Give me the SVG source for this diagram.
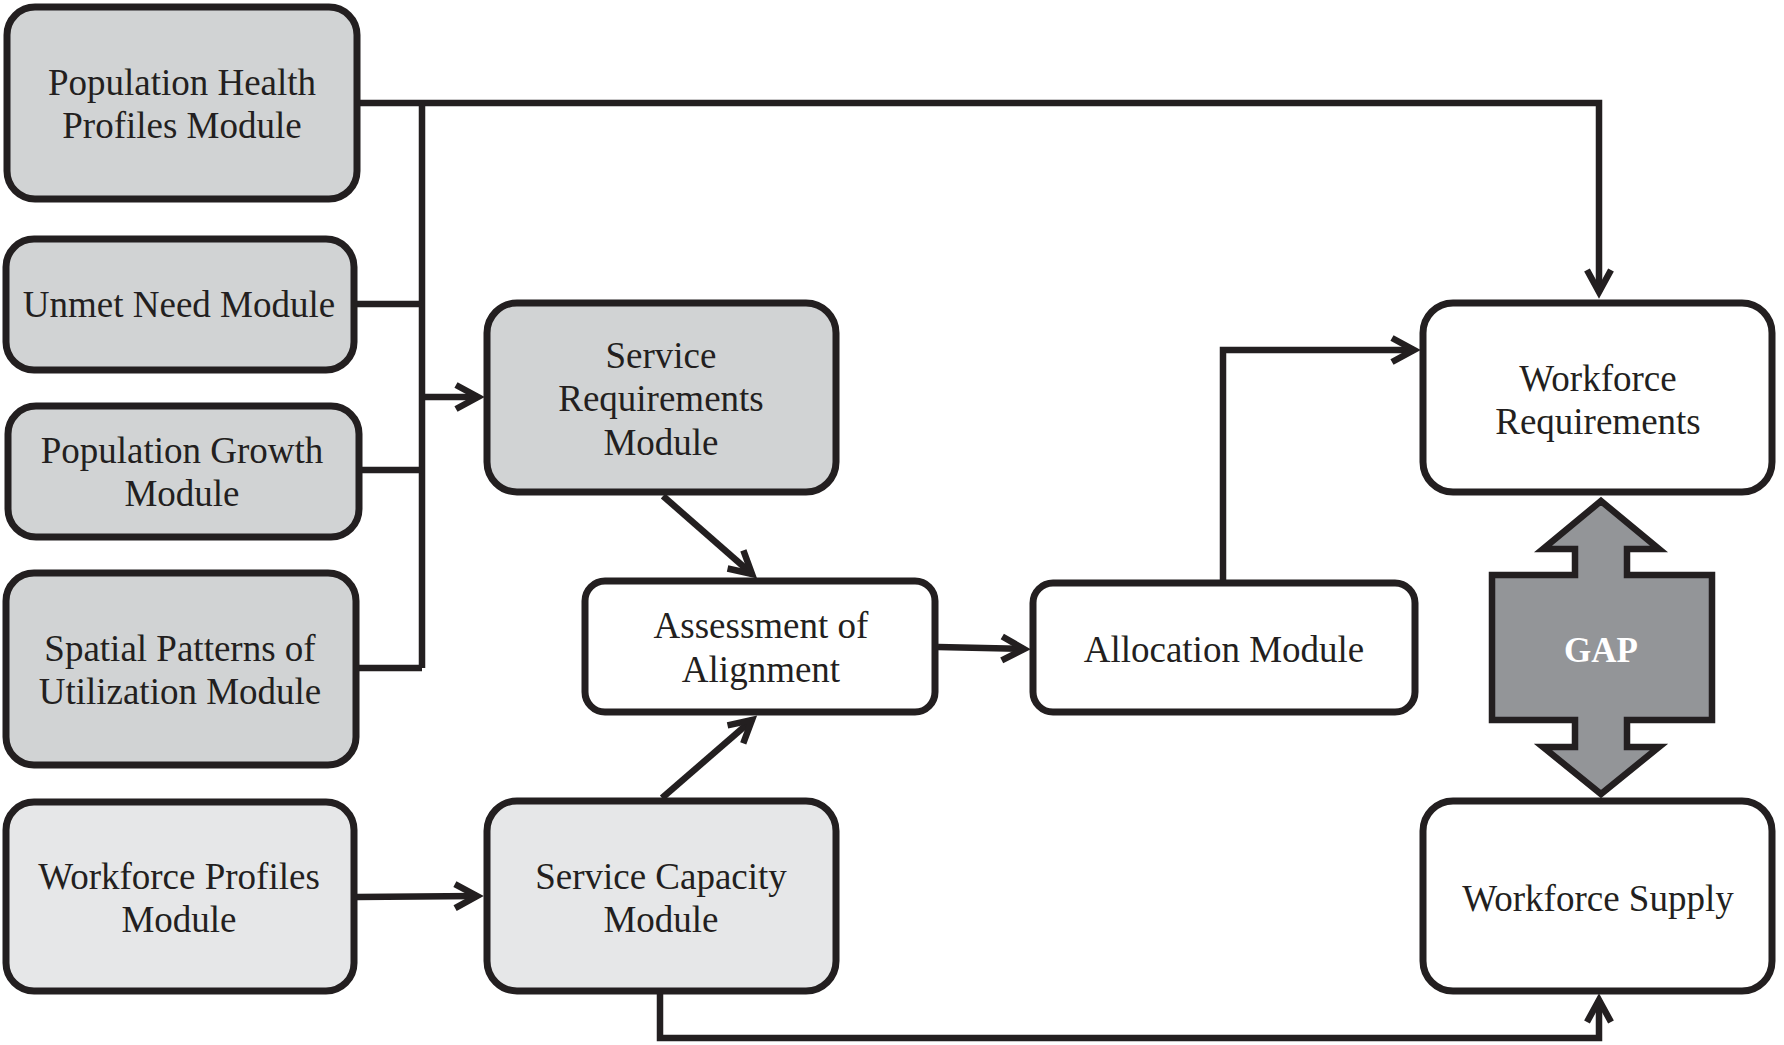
<svg xmlns="http://www.w3.org/2000/svg" width="1784" height="1045" viewBox="0 0 1784 1045">
<style>
.box{stroke:#231f20;stroke-width:7;}
.dk{fill:#d1d3d4;}
.lt{fill:#e6e7e8;}
.wh{fill:#ffffff;}
.t{font-family:"Liberation Serif","Times New Roman",serif;font-size:37px;fill:#231f20;text-anchor:middle;}
.c{fill:none;stroke:#231f20;stroke-width:6.5;stroke-linejoin:miter;}
</style>
<defs>
<marker id="arr" markerUnits="userSpaceOnUse" markerWidth="40" markerHeight="40" refX="0" refY="0" orient="auto" overflow="visible">
<path d="M-22,-12 L0,0 L-22,12" fill="none" stroke="#231f20" stroke-width="6.5" stroke-linejoin="miter"/>
</marker>
</defs>
<rect width="1784" height="1045" fill="#ffffff"/>
<g id="connectors">
<path class="c" d="M360,103 H1599 V292" marker-end="url(#arr)"/>
<path class="c" d="M422,103 V668"/>
<path class="c" d="M356,304 H422"/>
<path class="c" d="M361,470 H422"/>
<path class="c" d="M358,668 H422"/>
<path class="c" d="M422,397 H478" marker-end="url(#arr)"/>
<path class="c" d="M663,496 L752,574" marker-end="url(#arr)"/>
<path class="c" d="M662,798 L752,720" marker-end="url(#arr)"/>
<path class="c" d="M938,647 L1024,649" marker-end="url(#arr)"/>
<path class="c" d="M1223,583 V350 H1414" marker-end="url(#arr)"/>
<path class="c" d="M357,897 L477,896" marker-end="url(#arr)"/>
<path class="c" d="M660,994 V1038 H1599 V1000" marker-end="url(#arr)"/>
</g>
<g id="pop-health">
<rect class="box dk" x="7" y="7" width="350" height="192" rx="28"/>
<text class="t" x="182" y="95">Population Health</text>
<text class="t" x="182" y="138">Profiles Module</text>
</g>
<g id="unmet-need">
<rect class="box dk" x="6" y="239" width="348" height="131" rx="28"/>
<text class="t" x="179" y="317">Unmet Need Module</text>
</g>
<g id="pop-growth">
<rect class="box dk" x="8" y="406" width="351" height="131" rx="28"/>
<text class="t" x="182" y="463">Population Growth</text>
<text class="t" x="182" y="506">Module</text>
</g>
<g id="spatial">
<rect class="box dk" x="6" y="573" width="350" height="192" rx="28"/>
<text class="t" x="180" y="661">Spatial Patterns of</text>
<text class="t" x="180" y="704">Utilization Module</text>
</g>
<g id="workforce-profiles">
<rect class="box lt" x="6" y="802" width="348" height="189" rx="28"/>
<text class="t" x="179" y="889">Workforce Profiles</text>
<text class="t" x="179" y="932">Module</text>
</g>
<g id="service-req">
<rect class="box dk" x="487" y="303" width="349" height="189" rx="30"/>
<text class="t" x="661" y="368">Service</text>
<text class="t" x="661" y="411">Requirements</text>
<text class="t" x="661" y="455">Module</text>
</g>
<g id="service-cap">
<rect class="box lt" x="487" y="801" width="349" height="190" rx="30"/>
<text class="t" x="661" y="889">Service Capacity</text>
<text class="t" x="661" y="932">Module</text>
</g>
<g id="assessment">
<rect class="box wh" x="585" y="581" width="350" height="131" rx="20"/>
<text class="t" x="761" y="638">Assessment of</text>
<text class="t" x="761" y="682">Alignment</text>
</g>
<g id="allocation">
<rect class="box wh" x="1033" y="583" width="382" height="129" rx="20"/>
<text class="t" x="1224" y="662">Allocation Module</text>
</g>
<g id="workforce-req">
<rect class="box wh" x="1423" y="303" width="349" height="189" rx="30"/>
<text class="t" x="1598" y="391">Workforce</text>
<text class="t" x="1598" y="434">Requirements</text>
</g>
<g id="workforce-supply">
<rect class="box wh" x="1423" y="801" width="349" height="190" rx="30"/>
<text class="t" x="1598" y="911">Workforce Supply</text>
</g>
<g id="gap">
<polygon points="1601,501 1659,549 1627,549 1627,575 1712,575 1712,720 1627,720 1627,747 1659,747 1601,794 1543,747 1575,747 1575,720 1492,720 1492,575 1575,575 1575,549 1543,549" fill="#939598" stroke="#231f20" stroke-width="6.5" stroke-linejoin="miter"/>
<text x="1601" y="662" font-family="Liberation Serif, Times New Roman, serif" font-size="35" font-weight="bold" fill="#ffffff" text-anchor="middle">GAP</text>
</g>
</svg>
